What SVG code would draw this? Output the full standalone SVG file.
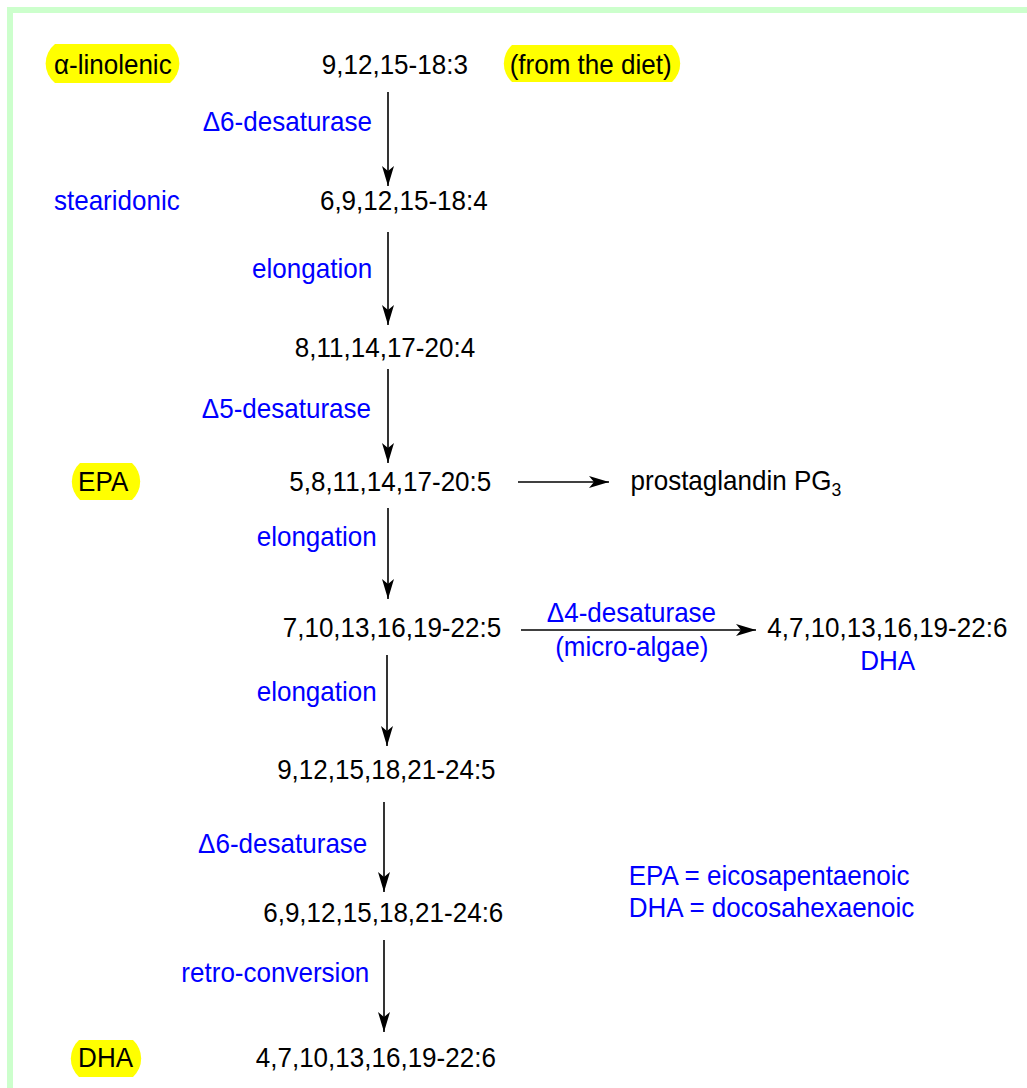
<svg xmlns="http://www.w3.org/2000/svg" width="1027" height="1088" viewBox="0 0 1027 1088">
<style>
text{font-family:"Liberation Sans",Arial,sans-serif;font-size:28px}
.k{fill:#000}
.b{fill:#0000ff}
.hl{fill:#ffff00}
.c{stroke:#000;stroke-width:1.6;fill:none;marker-end:url(#ah)}
</style>
<defs>
<marker id="ah" markerUnits="userSpaceOnUse" markerWidth="22" markerHeight="14" refX="20" refY="6" orient="auto">
<path d="M0,0 L20,6 L0,12 L5,6 Z" fill="#000"/>
</marker>
</defs>
<rect x="0" y="0" width="1027" height="1088" fill="#fff"/>
<path d="M10,1088 V10 H1027" fill="none" stroke="#ccffcc" stroke-width="6"/>

<g id="connectors">
<line class="c" x1="388" y1="92" x2="388" y2="186"/>
<line class="c" x1="388" y1="232" x2="388" y2="325"/>
<line class="c" x1="388" y1="369" x2="388" y2="463"/>
<line class="c" x1="388" y1="508" x2="388" y2="599"/>
<line class="c" x1="518" y1="482" x2="609" y2="482"/>
<line class="c" x1="521" y1="630" x2="756" y2="630"/>
<line class="c" x1="387" y1="655" x2="387" y2="746"/>
<line class="c" x1="384" y1="802" x2="384" y2="892"/>
<line class="c" x1="384" y1="940" x2="384" y2="1032"/>
</g>

<g id="highlights">
<path class="hl" d="M55,44 H170 A25 25 0 0 1 170,83 H55 A25 25 0 0 1 55,44 Z"/>
<path class="hl" d="M512,45 H672 A25 25 0 0 1 672,82 H512 A25 25 0 0 1 512,45 Z"/>
<path class="hl" d="M80,463 H132 A25 25 0 0 1 132,500 H80 A25 25 0 0 1 80,463 Z"/>
<path class="hl" d="M79,1040 H133 A25 25 0 0 1 133,1077 H79 A25 25 0 0 1 79,1040 Z"/>
</g>

<g transform="scale(0.93 1)">
<g id="alpha-linolenic"><text class="k" x="58" y="74">α-linolenic</text></g>
<g id="stearidonic"><text class="b" x="58" y="210">stearidonic</text></g>
<g id="epa-label"><text class="k" x="84" y="491">EPA</text></g>
<g id="dha-label"><text class="k" x="84" y="1067">DHA</text></g>
<g id="n1"><text class="k" x="346" y="74">9,12,15-18:3</text></g>
<g id="diet"><text class="k" x="548" y="74">(from the diet)</text></g>
<g id="e1"><text class="b" x="218" y="131">Δ6-desaturase</text></g>
<g id="n2"><text class="k" x="344" y="210">6,9,12,15-18:4</text></g>
<g id="e2"><text class="b" x="271" y="278">elongation</text></g>
<g id="n3"><text class="k" x="317" y="357">8,11,14,17-20:4</text></g>
<g id="e3"><text class="b" x="217" y="418">Δ5-desaturase</text></g>
<g id="n4"><text class="k" x="311" y="491">5,8,11,14,17-20:5</text></g>
<g id="pg3"><text class="k" x="678" y="490">prostaglandin PG<tspan font-size="19" dy="6">3</tspan></text></g>
<g id="e4"><text class="b" x="276" y="546">elongation</text></g>
<g id="n5"><text class="k" x="304" y="637">7,10,13,16,19-22:5</text></g>
<g id="e5"><text class="b" x="588" y="622">Δ4-desaturase</text><text class="b" x="597" y="656">(micro-algae)</text></g>
<g id="n6"><text class="k" x="825" y="637">4,7,10,13,16,19-22:6</text><text class="b" x="925" y="670">DHA</text></g>
<g id="e6"><text class="b" x="276" y="701">elongation</text></g>
<g id="n7"><text class="k" x="298" y="779">9,12,15,18,21-24:5</text></g>
<g id="e7"><text class="b" x="213" y="853">Δ6-desaturase</text></g>
<g id="n8"><text class="k" x="283" y="922">6,9,12,15,18,21-24:6</text></g>
<g id="legend"><text class="b" x="676" y="885">EPA = eicosapentaenoic</text><text class="b" x="676" y="917">DHA = docosahexaenoic</text></g>
<g id="e8"><text class="b" x="195" y="982">retro-conversion</text></g>
<g id="n9"><text class="k" x="275" y="1067">4,7,10,13,16,19-22:6</text></g>
</g>
</svg>
